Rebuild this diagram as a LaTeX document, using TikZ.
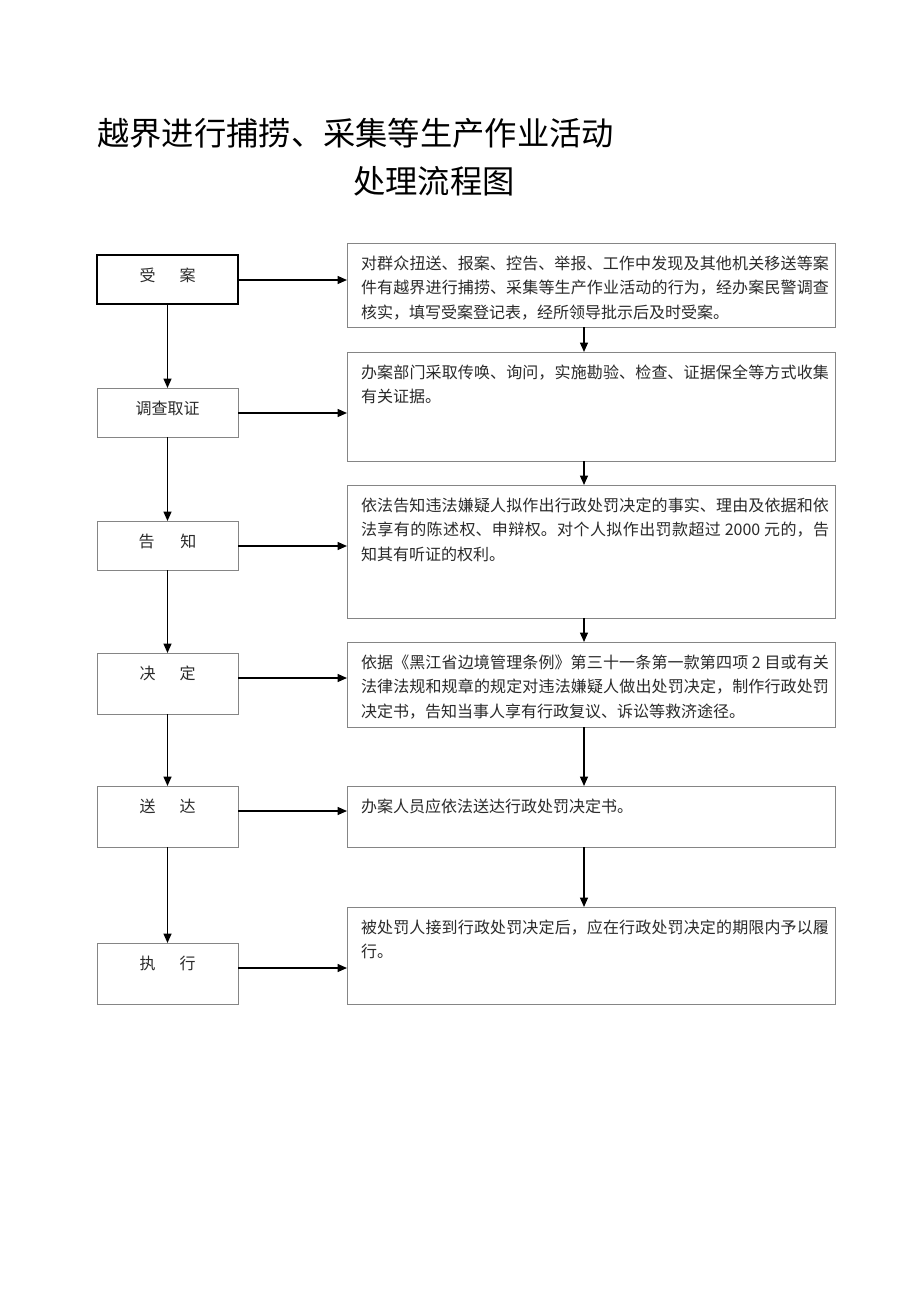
\documentclass[tikz,border=0pt]{standalone}
\usepackage{fontspec}
\setmainfont{Noto Sans CJK SC}
\usetikzlibrary{arrows.meta}
\XeTeXlinebreaklocale "zh"
\XeTeXlinebreakskip=0pt plus 3pt
\definecolor{boxgray}{HTML}{858585}
\definecolor{txtgray}{HTML}{2A2A2A}
\newcommand{\lboxtext}[2]{\parbox[c][#1pt][t]{141pt}{\centering\rule{0pt}{26pt}#2}}
\newcommand{\rboxtext}[2]{\parbox[c][#1pt][t]{488pt}{\leftskip=14pt\rightskip=6pt\parfillskip=0pt plus 1fil\rule{0pt}{26pt}#2}}
\tikzset{
  basebox/.style={inner sep=0pt, outer sep=0pt, text=txtgray, font=\fontsize{16}{24.5}\selectfont, anchor=north west},
  lbox/.style={basebox, draw=boxgray, line width=1pt},
  firstbox/.style={basebox, draw=black, line width=1.8pt},
  rbox/.style={basebox, draw=boxgray, line width=1pt},
  arr/.style={draw=black, line width=1.5pt, -{Triangle[length=9.5pt,width=8pt]}},
  ttl/.style={anchor=west, inner sep=0pt, text=black, font=\fontsize{32.3}{34}\selectfont}
}
\begin{document}
\begin{tikzpicture}[x=1pt,y=-1pt]
\fill[white] (0,0) rectangle (920,1301);
\useasboundingbox (0,0) rectangle (920,1301);

% title
\node[ttl] (t1) at (97,133) {越界进行捕捞、采集等生产作业活动};
\node[ttl] (t2) at (353,181) {处理流程图};

% left column
\node[firstbox] (l1) at (97,255) {\lboxtext{49}{受\hspace{1.5em}案}};
\node[lbox] (l2) at (97,388) {\lboxtext{49}{调查取证}};
\node[lbox] (l3) at (97,521) {\lboxtext{49}{告\hspace{1.6em}知}};
\node[lbox] (l4) at (97,653) {\lboxtext{61}{决\hspace{1.5em}定}};
\node[lbox] (l5) at (97,786) {\lboxtext{61}{送\hspace{1.5em}达}};
\node[lbox] (l6) at (97,943) {\lboxtext{61}{执\hspace{1.5em}行}};

% right column
\node[rbox] (r1) at (347,243) {\rboxtext{84}{对群众扭送、报案、控告、举报、工作中发现及其他机关移送等案\linebreak 件有越界进行捕捞、采集等生产作业活动的行为，经办案民警调查\linebreak 核实，填写受案登记表，经所领导批示后及时受案。}};
\node[rbox] (r2) at (347,352) {\rboxtext{109}{办案部门采取传唤、询问，实施勘验、检查、证据保全等方式收集\linebreak 有关证据。}};
\node[rbox] (r3) at (347,485) {\rboxtext{133}{依法告知违法嫌疑人拟作出行政处罚决定的事实、理由及依据和依\linebreak 法享有的陈述权、申辩权。对个人拟作出罚款超过 2000 元的，告\linebreak 知其有听证的权利。}};
\node[rbox] (r4) at (347,642) {\rboxtext{85}{依据《黑江省边境管理条例》第三十一条第一款第四项 2 目或有关\linebreak 法律法规和规章的规定对违法嫌疑人做出处罚决定，制作行政处罚\linebreak 决定书，告知当事人享有行政复议、诉讼等救济途径。}};
\node[rbox] (r5) at (347,786) {\rboxtext{61}{办案人员应依法送达行政处罚决定书。}};
\node[rbox] (r6) at (347,907) {\rboxtext{97}{被处罚人接到行政处罚决定后，应在行政处罚决定的期限内予以履\linebreak 行。}};

% horizontal connectors
\foreach \i in {1,...,6} {
  \coordinate (h\i) at ([yshift=-25pt]l\i.north east);
  \draw[arr] (h\i) -- (h\i -| r\i.west);
}

% left vertical connectors
\foreach \i/\j in {1/2,2/3,3/4,4/5,5/6} {
  \draw[arr] (l\i.south) -- (l\j.north);
}

% right vertical connectors
\foreach \i/\j in {1/2,2/3,3/4,4/5,5/6} {
  \draw[arr] ([xshift=-7pt]r\i.south) -- ([xshift=-7pt]r\j.north);
}
\end{tikzpicture}
\end{document}
